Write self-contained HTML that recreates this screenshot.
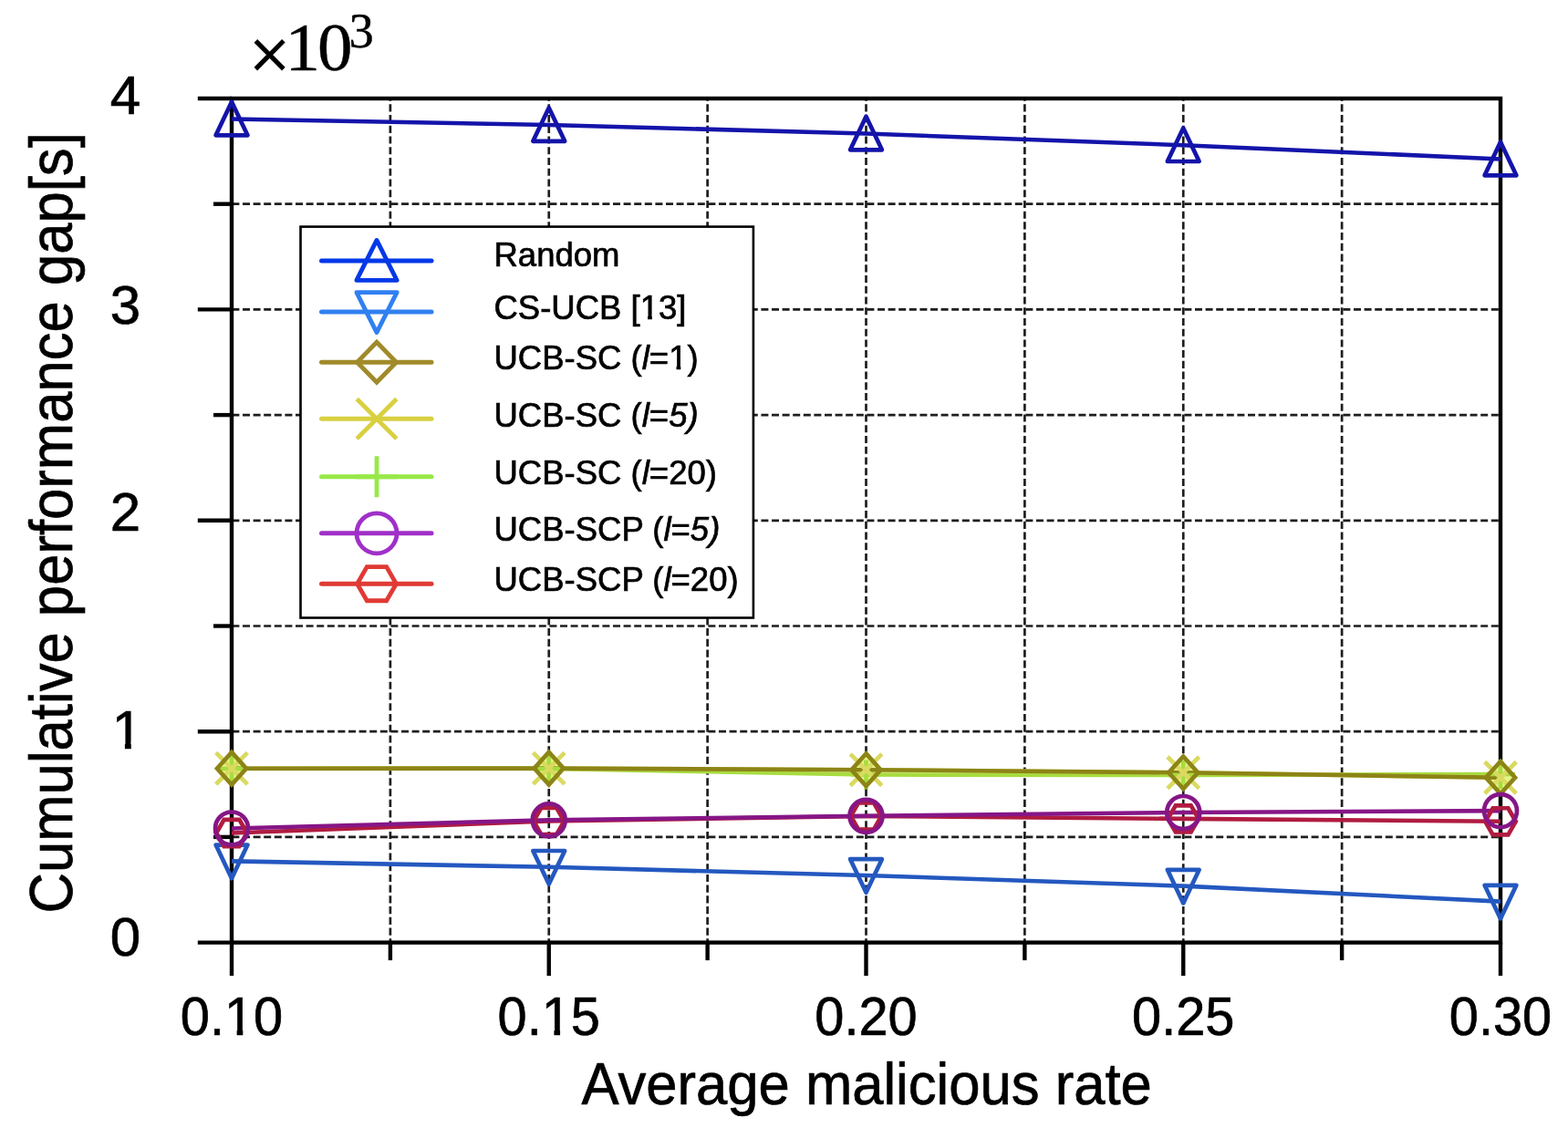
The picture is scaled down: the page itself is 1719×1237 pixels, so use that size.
<!DOCTYPE html>
<html><head><meta charset="utf-8"><title>Cumulative performance gap vs average malicious rate</title>
<style>
html,body{margin:0;padding:0;background:#fff;}
body{width:1719px;height:1237px;overflow:hidden;}
svg{display:block;}
text{font-family:"Liberation Sans",Arial,Helvetica,sans-serif;fill:#000;}
.serif{font-family:"Liberation Serif","Times New Roman",serif;}
</style></head><body>
<svg width="1719" height="1237" viewBox="0 0 1719 1237">
<rect x="0" y="0" width="1719" height="1237" fill="#fff"/>
<g stroke="#1e1e1e" stroke-width="2.7" fill="none">
<line x1="254.4" y1="917.90" x2="1645.00" y2="917.90" stroke-dasharray="8.0 3.6"/>
<line x1="254.4" y1="802.20" x2="1645.00" y2="802.20" stroke-dasharray="8.0 3.6"/>
<line x1="254.4" y1="686.50" x2="1645.00" y2="686.50" stroke-dasharray="8.0 3.6"/>
<line x1="254.4" y1="570.80" x2="1645.00" y2="570.80" stroke-dasharray="8.0 3.6"/>
<line x1="254.4" y1="455.10" x2="1645.00" y2="455.10" stroke-dasharray="8.0 3.6"/>
<line x1="254.4" y1="339.40" x2="1645.00" y2="339.40" stroke-dasharray="8.0 3.6"/>
<line x1="254.4" y1="223.70" x2="1645.00" y2="223.70" stroke-dasharray="8.0 3.6"/>
<line x1="427.88" y1="108.00" x2="427.88" y2="1033.60" stroke-dasharray="8.1 3.63" stroke-dashoffset="5.4"/>
<line x1="601.75" y1="108.00" x2="601.75" y2="1033.60" stroke-dasharray="8.1 3.63" stroke-dashoffset="5.4"/>
<line x1="775.63" y1="108.00" x2="775.63" y2="1033.60" stroke-dasharray="8.1 3.63" stroke-dashoffset="5.4"/>
<line x1="949.50" y1="108.00" x2="949.50" y2="1033.60" stroke-dasharray="8.1 3.63" stroke-dashoffset="5.4"/>
<line x1="1123.38" y1="108.00" x2="1123.38" y2="1033.60" stroke-dasharray="8.1 3.63" stroke-dashoffset="5.4"/>
<line x1="1297.25" y1="108.00" x2="1297.25" y2="1033.60" stroke-dasharray="8.1 3.63" stroke-dashoffset="5.4"/>
<line x1="1471.13" y1="108.00" x2="1471.13" y2="1033.60" stroke-dasharray="8.1 3.63" stroke-dashoffset="5.4"/>
</g>
<g stroke="#000" stroke-width="4.4" fill="none" stroke-linecap="butt">
<rect x="254.00" y="108.00" width="1391.00" height="925.60"/>
<line x1="216.80" y1="1033.60" x2="254.00" y2="1033.60"/>
<line x1="234.00" y1="917.90" x2="254.00" y2="917.90"/>
<line x1="216.80" y1="802.20" x2="254.00" y2="802.20"/>
<line x1="234.00" y1="686.50" x2="254.00" y2="686.50"/>
<line x1="216.80" y1="570.80" x2="254.00" y2="570.80"/>
<line x1="234.00" y1="455.10" x2="254.00" y2="455.10"/>
<line x1="216.80" y1="339.40" x2="254.00" y2="339.40"/>
<line x1="234.00" y1="223.70" x2="254.00" y2="223.70"/>
<line x1="216.80" y1="108.00" x2="254.00" y2="108.00"/>
<line x1="254.00" y1="1033.60" x2="254.00" y2="1070.10"/>
<line x1="427.88" y1="1033.60" x2="427.88" y2="1053.10"/>
<line x1="601.75" y1="1033.60" x2="601.75" y2="1070.10"/>
<line x1="775.63" y1="1033.60" x2="775.63" y2="1053.10"/>
<line x1="949.50" y1="1033.60" x2="949.50" y2="1070.10"/>
<line x1="1123.38" y1="1033.60" x2="1123.38" y2="1053.10"/>
<line x1="1297.25" y1="1033.60" x2="1297.25" y2="1070.10"/>
<line x1="1471.13" y1="1033.60" x2="1471.13" y2="1053.10"/>
<line x1="1645.00" y1="1033.60" x2="1645.00" y2="1070.10"/>
</g>
<path d="M254.00,824.90 L270.00,842.70 L254.00,860.50 L238.00,842.70 Z" fill="#e4f488" stroke="none"/>
<path d="M601.75,824.80 L617.75,842.60 L601.75,860.40 L585.75,842.60 Z" fill="#e4f488" stroke="none"/>
<path d="M949.50,826.40 L965.50,844.20 L949.50,862.00 L933.50,844.20 Z" fill="#e4f488" stroke="none"/>
<path d="M1297.25,829.50 L1313.25,847.30 L1297.25,865.10 L1281.25,847.30 Z" fill="#e4f488" stroke="none"/>
<path d="M1645.00,835.00 L1661.00,852.80 L1645.00,870.60 L1629.00,852.80 Z" fill="#e4f488" stroke="none"/>
<polyline points="254.00,130.50 601.75,137.00 949.50,146.50 1297.25,159.20 1645.00,174.50" fill="none" stroke="#1414aa" stroke-width="4.6" stroke-linejoin="round"/>
<polyline points="254.00,944.40 601.75,950.80 949.50,960.00 1297.25,971.60 1645.00,988.60" fill="none" stroke="#2458c0" stroke-width="4.6" stroke-linejoin="round"/>
<polyline points="254.00,843.00 601.75,843.00 949.50,849.50 1297.25,850.00 1645.00,849.00" fill="none" stroke="#a8dc40" stroke-width="4.6" stroke-linejoin="round"/>
<polyline points="254.00,842.70 601.75,842.60 949.50,844.20 1297.25,847.30 1645.00,852.80" fill="none" stroke="#dada60" stroke-width="4.6" stroke-linejoin="round"/>
<polyline points="254.00,842.70 601.75,842.60 949.50,844.20 1297.25,847.30 1645.00,852.80" fill="none" stroke="#8c8416" stroke-width="4.6" stroke-linejoin="round"/>
<polyline points="254.00,913.50 601.75,900.50 949.50,895.00 1297.25,897.90 1645.00,900.80" fill="none" stroke="#b01c40" stroke-width="4.6" stroke-linejoin="round"/>
<polyline points="254.00,908.50 601.75,899.30 949.50,894.80 1297.25,891.00 1645.00,889.10" fill="none" stroke="#861686" stroke-width="4.6" stroke-linejoin="round"/>
<path d="M254.00,111.70 L271.40,148.30 L236.60,148.30 Z" fill="none" stroke="#1414aa" stroke-width="4.7" stroke-linejoin="round"/>
<path d="M601.75,118.20 L619.15,154.80 L584.35,154.80 Z" fill="none" stroke="#1414aa" stroke-width="4.7" stroke-linejoin="round"/>
<path d="M949.50,127.70 L966.90,164.30 L932.10,164.30 Z" fill="none" stroke="#1414aa" stroke-width="4.7" stroke-linejoin="round"/>
<path d="M1297.25,140.40 L1314.65,177.00 L1279.85,177.00 Z" fill="none" stroke="#1414aa" stroke-width="4.7" stroke-linejoin="round"/>
<path d="M1645.00,155.70 L1662.40,192.30 L1627.60,192.30 Z" fill="none" stroke="#1414aa" stroke-width="4.7" stroke-linejoin="round"/>
<path d="M254.00,963.20 L271.40,926.60 L236.60,926.60 Z" fill="none" stroke="#2458c0" stroke-width="4.7" stroke-linejoin="round"/>
<path d="M601.75,969.60 L619.15,933.00 L584.35,933.00 Z" fill="none" stroke="#2458c0" stroke-width="4.7" stroke-linejoin="round"/>
<path d="M949.50,978.80 L966.90,942.20 L932.10,942.20 Z" fill="none" stroke="#2458c0" stroke-width="4.7" stroke-linejoin="round"/>
<path d="M1297.25,990.40 L1314.65,953.80 L1279.85,953.80 Z" fill="none" stroke="#2458c0" stroke-width="4.7" stroke-linejoin="round"/>
<path d="M1645.00,1007.40 L1662.40,970.80 L1627.60,970.80 Z" fill="none" stroke="#2458c0" stroke-width="4.7" stroke-linejoin="round"/>
<path d="M238.00,843.00 L270.00,843.00 M254.00,827.00 L254.00,859.00" fill="none" stroke="#a8dc40" stroke-width="4.7"/>
<path d="M585.75,843.00 L617.75,843.00 M601.75,827.00 L601.75,859.00" fill="none" stroke="#a8dc40" stroke-width="4.7"/>
<path d="M933.50,849.50 L965.50,849.50 M949.50,833.50 L949.50,865.50" fill="none" stroke="#a8dc40" stroke-width="4.7"/>
<path d="M1281.25,850.00 L1313.25,850.00 M1297.25,834.00 L1297.25,866.00" fill="none" stroke="#a8dc40" stroke-width="4.7"/>
<path d="M1629.00,849.00 L1661.00,849.00 M1645.00,833.00 L1645.00,865.00" fill="none" stroke="#a8dc40" stroke-width="4.7"/>
<path d="M236.70,825.40 L271.30,860.00 M271.30,825.40 L236.70,860.00" fill="none" stroke="#dada60" stroke-width="4.7"/>
<path d="M584.45,825.30 L619.05,859.90 M619.05,825.30 L584.45,859.90" fill="none" stroke="#dada60" stroke-width="4.7"/>
<path d="M932.20,826.90 L966.80,861.50 M966.80,826.90 L932.20,861.50" fill="none" stroke="#dada60" stroke-width="4.7"/>
<path d="M1279.95,830.00 L1314.55,864.60 M1314.55,830.00 L1279.95,864.60" fill="none" stroke="#dada60" stroke-width="4.7"/>
<path d="M1627.70,835.50 L1662.30,870.10 M1662.30,835.50 L1627.70,870.10" fill="none" stroke="#dada60" stroke-width="4.7"/>
<path d="M254.00,824.90 L270.00,842.70 L254.00,860.50 L238.00,842.70 Z" fill="none" stroke="#8c8416" stroke-width="4.7" stroke-linejoin="miter"/>
<path d="M601.75,824.80 L617.75,842.60 L601.75,860.40 L585.75,842.60 Z" fill="none" stroke="#8c8416" stroke-width="4.7" stroke-linejoin="miter"/>
<path d="M949.50,826.40 L965.50,844.20 L949.50,862.00 L933.50,844.20 Z" fill="none" stroke="#8c8416" stroke-width="4.7" stroke-linejoin="miter"/>
<path d="M1297.25,829.50 L1313.25,847.30 L1297.25,865.10 L1281.25,847.30 Z" fill="none" stroke="#8c8416" stroke-width="4.7" stroke-linejoin="miter"/>
<path d="M1645.00,835.00 L1661.00,852.80 L1645.00,870.60 L1629.00,852.80 Z" fill="none" stroke="#8c8416" stroke-width="4.7" stroke-linejoin="miter"/>
<path d="M237.20,913.50 L245.60,898.95 L262.40,898.95 L270.80,913.50 L262.40,928.05 L245.60,928.05 Z" fill="none" stroke="#b01c40" stroke-width="4.7" stroke-linejoin="miter"/>
<path d="M584.95,900.50 L593.35,885.95 L610.15,885.95 L618.55,900.50 L610.15,915.05 L593.35,915.05 Z" fill="none" stroke="#b01c40" stroke-width="4.7" stroke-linejoin="miter"/>
<path d="M932.70,895.00 L941.10,880.45 L957.90,880.45 L966.30,895.00 L957.90,909.55 L941.10,909.55 Z" fill="none" stroke="#b01c40" stroke-width="4.7" stroke-linejoin="miter"/>
<path d="M1280.45,897.90 L1288.85,883.35 L1305.65,883.35 L1314.05,897.90 L1305.65,912.45 L1288.85,912.45 Z" fill="none" stroke="#b01c40" stroke-width="4.7" stroke-linejoin="miter"/>
<path d="M1628.20,900.80 L1636.60,886.25 L1653.40,886.25 L1661.80,900.80 L1653.40,915.35 L1636.60,915.35 Z" fill="none" stroke="#b01c40" stroke-width="4.7" stroke-linejoin="miter"/>
<circle cx="254.00" cy="908.50" r="18.00" fill="none" stroke="#861686" stroke-width="4.7"/>
<circle cx="601.75" cy="899.30" r="18.00" fill="none" stroke="#861686" stroke-width="4.7"/>
<circle cx="949.50" cy="894.80" r="18.00" fill="none" stroke="#861686" stroke-width="4.7"/>
<circle cx="1297.25" cy="891.00" r="18.00" fill="none" stroke="#861686" stroke-width="4.7"/>
<circle cx="1645.00" cy="889.10" r="18.00" fill="none" stroke="#861686" stroke-width="4.7"/>
<g font-size="60" text-anchor="end" stroke="#000" stroke-width="0.7">
<text class="c1" x="154" y="1047.90">0</text>
<text class="c1" x="156" y="820.60">1</text>
<text class="c1" x="154" y="581.80">2</text>
<text class="c1" x="154" y="355.20">3</text>
<text class="c1" x="154" y="125.30">4</text>
</g>
<g font-size="60" text-anchor="middle" stroke="#000" stroke-width="0.7">
<text class="c1" transform="translate(254.00,1134.8) scale(0.962,1)">0.10</text>
<text class="c1" transform="translate(601.75,1134.8) scale(0.962,1)">0.15</text>
<text class="c1" transform="translate(949.50,1134.8) scale(0.962,1)">0.20</text>
<text class="c1" transform="translate(1297.25,1134.8) scale(0.962,1)">0.25</text>
<text class="c1" transform="translate(1645.00,1134.8) scale(0.962,1)">0.30</text>
</g>
<text class="serif" x="273" y="86.5" font-size="80" stroke="#000" stroke-width="1.1">×</text>
<text class="serif" transform="translate(312.5,76.5) scale(1.04,1)" font-size="74" letter-spacing="-2.8" stroke="#000" stroke-width="0.4">10</text>
<text class="serif" x="382.5" y="51.5" font-size="54.5" stroke="#000" stroke-width="0.4">3</text>
<text transform="translate(637.5,1211.3) scale(0.952,1)" font-size="64.7" stroke="#000" stroke-width="0.7">Average malicious rate</text>
<text transform="translate(79,1001.5) rotate(-90) scale(0.92,1)" font-size="67" stroke="#000" stroke-width="0.7">Cumulative performance gap[s]</text>
<rect x="329.5" y="248.6" width="496.4" height="428.9" fill="#fff" stroke="#000" stroke-width="2.6"/>
<line x1="352.5" y1="286.00" x2="473" y2="286.00" stroke="#0438e8" stroke-width="5.0" stroke-linecap="round"/>
<path d="M413.00,263.40 L435.10,307.40 L390.90,307.40 Z" fill="none" stroke="#0438e8" stroke-width="4.8" stroke-linejoin="round"/>
<text class="c1" x="541.5" y="291.60" font-size="36.5" stroke="#000" stroke-width="0.7">Random</text>
<line x1="352.5" y1="342.00" x2="473" y2="342.00" stroke="#3080f0" stroke-width="5.0" stroke-linecap="round"/>
<path d="M413.00,364.60 L435.10,320.60 L390.90,320.60 Z" fill="none" stroke="#3080f0" stroke-width="4.8" stroke-linejoin="round"/>
<text class="c1" x="541.5" y="350.10" font-size="36.5" stroke="#000" stroke-width="0.7">CS-UCB [13]</text>
<line x1="352.5" y1="397.30" x2="473" y2="397.30" stroke="#a08a2a" stroke-width="5.0" stroke-linecap="round"/>
<path d="M413.00,375.30 L434.50,397.30 L413.00,419.30 L391.50,397.30 Z" fill="none" stroke="#a08a2a" stroke-width="4.8" stroke-linejoin="miter"/>
<text class="c1" x="541.5" y="405.40" font-size="36.5" stroke="#000" stroke-width="0.7">UCB-SC (<tspan font-style="italic">l</tspan>=1)</text>
<line x1="352.5" y1="459.30" x2="473" y2="459.30" stroke="#d8d040" stroke-width="5.0" stroke-linecap="round"/>
<path d="M391.20,437.50 L434.80,481.10 M434.80,437.50 L391.20,481.10" fill="none" stroke="#d8d040" stroke-width="4.8"/>
<text class="c1" x="541.5" y="467.50" font-size="36.5" stroke="#000" stroke-width="0.7">UCB-SC (<tspan font-style="italic">l</tspan>=<tspan font-style="italic">5)</tspan></text>
<line x1="352.5" y1="522.80" x2="473" y2="522.80" stroke="#98e848" stroke-width="5.0" stroke-linecap="round"/>
<path d="M390.50,522.80 L435.50,522.80 M413.00,500.30 L413.00,545.30" fill="none" stroke="#98e848" stroke-width="4.8"/>
<text class="c1" x="541.5" y="530.80" font-size="36.5" stroke="#000" stroke-width="0.7">UCB-SC (<tspan font-style="italic">l</tspan>=20)</text>
<line x1="352.5" y1="584.80" x2="473" y2="584.80" stroke="#a030c8" stroke-width="5.0" stroke-linecap="round"/>
<circle cx="413.00" cy="584.80" r="22.00" fill="none" stroke="#a030c8" stroke-width="4.8"/>
<text class="c1" x="541.5" y="592.80" font-size="36.5" stroke="#000" stroke-width="0.7">UCB-SCP (<tspan font-style="italic">l</tspan>=<tspan font-style="italic">5)</tspan></text>
<line x1="352.5" y1="640.20" x2="473" y2="640.20" stroke="#e03a35" stroke-width="5.0" stroke-linecap="round"/>
<path d="M391.60,640.20 L402.30,621.67 L423.70,621.67 L434.40,640.20 L423.70,658.73 L402.30,658.73 Z" fill="none" stroke="#e03a35" stroke-width="4.8" stroke-linejoin="miter"/>
<text class="c1" x="541.5" y="648.40" font-size="36.5" stroke="#000" stroke-width="0.7">UCB-SCP (<tspan font-style="italic">l</tspan>=20)</text>
<g fill="#fff" stroke="none">
<rect x="125.27" y="812.75" width="11.61" height="10.60"/>
<rect x="143.76" y="812.75" width="11.01" height="10.60"/>
<rect x="248.47" y="1126.95" width="11.17" height="10.60"/>
<rect x="266.32" y="1126.95" width="10.60" height="10.60"/>
<rect x="596.22" y="1126.95" width="11.17" height="10.60"/>
<rect x="614.07" y="1126.95" width="10.60" height="10.60"/>
<rect x="702.94" y="344.95" width="7.12" height="7.43"/>
<rect x="714.88" y="344.95" width="6.76" height="7.43"/>
<rect x="734.38" y="400.25" width="7.12" height="7.43"/>
<rect x="746.31" y="400.25" width="6.76" height="7.43"/>
</g>
</svg>
</body></html>
